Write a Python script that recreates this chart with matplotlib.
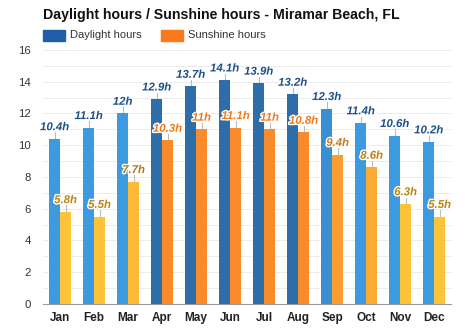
import matplotlib
matplotlib.use("Agg")
import matplotlib.pyplot as plt
import matplotlib.patheffects as pe
import numpy as np

plt.rcParams['font.family'] = ['Liberation Sans', 'DejaVu Sans']

months = ["Jan", "Feb", "Mar", "Apr", "May", "Jun", "Jul", "Aug", "Sep", "Oct", "Nov", "Dec"]
daylight = [10.4, 11.1, 12.0, 12.9, 13.7, 14.1, 13.9, 13.2, 12.3, 11.4, 10.6, 10.2]
sunshine = [5.8, 5.5, 7.7, 10.3, 11.0, 11.1, 11.0, 10.8, 9.4, 8.6, 6.3, 5.5]
daylight_labels = ["10.4h", "11.1h", "12h", "12.9h", "13.7h", "14.1h", "13.9h", "13.2h", "12.3h", "11.4h", "10.6h", "10.2h"]
sunshine_labels = ["5.8h", "5.5h", "7.7h", "10.3h", "11h", "11.1h", "11h", "10.8h", "9.4h", "8.6h", "6.3h", "5.5h"]

day_colors = ["#3d9ade", "#3d9ade", "#3d9ade", "#2d6da8", "#2d6da8", "#2d6da8", "#2d6da8", "#2d6da8",
              "#3a8fd3", "#3d9ade", "#3d9ade", "#3d9ade"]
sun_colors = ["#fdc43a", "#fdc43a", "#fdba36", "#f98b2b", "#f98b2b", "#f98b2b", "#f98b2b", "#f98b2b",
              "#fb9d2f", "#fcab32", "#fdc43a", "#fdc43a"]
sun_text_colors = ["#b8870f", "#b8870f", "#b07a14", "#f07a1c", "#f07a1c", "#f07a1c", "#f07a1c", "#f07a1c",
                   "#c77a16", "#c27f14", "#b8870f", "#b8870f"]

fig = plt.figure(figsize=(4.74, 3.31), dpi=100)
ax = fig.add_axes([0.091, 0.082, 0.861, 0.767])

x = np.arange(len(months))
w = 0.32
ax.bar(x - w / 2, daylight, width=w, color=day_colors, zorder=3)
ax.bar(x + w / 2, sunshine, width=w, color=sun_colors, zorder=3)

outline = [pe.withStroke(linewidth=2, foreground="white")]
for i in range(len(months)):
    for xi, v, lab, col in [(x[i] - w / 2, daylight[i], daylight_labels[i], "#1d4f8a"),
                            (x[i] + w / 2, sunshine[i], sunshine_labels[i], sun_text_colors[i])]:
        ax.plot([xi, xi], [v, v + 0.4], color="#bbbbbb", lw=0.8, zorder=2)
        ax.text(xi, v + 0.42, lab, ha="center", va="bottom", fontsize=8.2, fontweight="bold",
                fontstyle="italic", color=col, path_effects=outline, zorder=5)

ax.set_xlim(-0.5, 11.5)
ax.set_ylim(0, 16)
ax.set_yticks(np.arange(0, 17, 2))
ax.set_yticks(np.arange(0, 17, 1), minor=True)
ax.grid(axis="y", which="both", color="#ebebeb", lw=0.7, zorder=0)
ax.set_xticks(x)
ax.set_xticklabels(months, fontsize=8.5, fontweight="bold", color="#222222")
ax.tick_params(axis="x", length=0, pad=6)
ax.tick_params(axis="y", which="both", length=0, labelsize=8.2, labelcolor="#333333", pad=8.6)
for s in ["top", "right", "left"]:
    ax.spines[s].set_visible(False)
ax.spines["bottom"].set_color("#999999")
ax.spines["bottom"].set_zorder(4)

fig.text(0.091, 0.955, "Daylight hours / Sunshine hours - Miramar Beach, FL", fontsize=10.2,
         fontweight="bold", color="#111111", va="center", ha="left")
fig.patches.append(plt.Rectangle((43 / 474, 1 - 41 / 331), 22 / 474, 10.5 / 331, transform=fig.transFigure,
                                 color="#1f5ea8", figure=fig))
fig.text(70 / 474, 1 - 35.5 / 331, "Daylight hours", fontsize=8.0, color="#333333", va="center")
fig.patches.append(plt.Rectangle((161 / 474, 1 - 41 / 331), 22 / 474, 10.5 / 331, transform=fig.transFigure,
                                 color="#f97a1c", figure=fig))
fig.text(188 / 474, 1 - 35.5 / 331, "Sunshine hours", fontsize=8.0, color="#333333", va="center")

fig.savefig("out.png", dpi=100, facecolor="white")
